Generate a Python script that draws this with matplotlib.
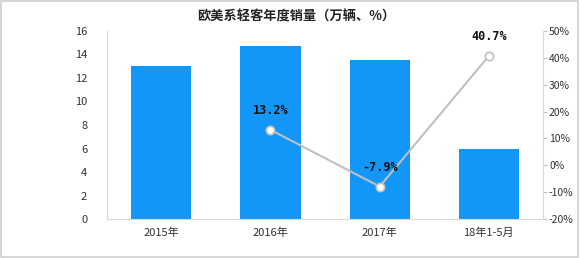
import numpy as np
import matplotlib.pyplot as plt
from matplotlib.patches import Rectangle

plt.rcParams['font.family'] = ['Noto Sans CJK SC', 'DejaVu Sans']

categories = ['2015年', '2016年', '2017年', '18年1-5月']
sales = [13.0, 14.7, 13.5, 6.0]
growth_x = [1, 2, 3]
growth = [13.2, -7.9, 40.7]
growth_labels = ['13.2%', '-7.9%', '40.7%']

fig = plt.figure(figsize=(5.8, 2.58), dpi=100)
fig.patches.append(Rectangle((0.002, 0.004), 0.995, 0.992, transform=fig.transFigure,
                             fill=False, edgecolor='#d0d0d0', linewidth=1.2))

ax = fig.add_axes([0.184, 0.151, 0.753, 0.729])
x = np.arange(len(categories))
ax.bar(x, sales, width=0.55, color='#1296F8', zorder=2)
ax.set_xlim(-0.5, 3.5)
ax.set_ylim(0, 16)
ax.set_yticks(range(0, 17, 2))
ax.set_xticks(x)
ax.set_xticklabels(categories)
ax.tick_params(axis='both', length=0, labelsize=8, colors='#333333', pad=6)
ax.tick_params(axis='y', pad=14)
for s in ['top', 'right']:
    ax.spines[s].set_visible(False)
for s in ['left', 'bottom']:
    ax.spines[s].set_color('#d9d9d9')

ax2 = ax.twinx()
ax2.plot(growth_x, growth, color='#c0c0c0', linewidth=1.5, marker='o', markersize=6,
         markerfacecolor='white', markeredgecolor='#c0c0c0', markeredgewidth=1.2, zorder=3)
ax2.set_ylim(-20, 50)
ax2.set_yticks(range(-20, 51, 10))
ax2.set_yticklabels([f'{v}%' for v in range(-20, 51, 10)])
ax2.tick_params(axis='y', length=3, direction='out', color='#c0c0c0', labelsize=7.5,
                colors='#333333', pad=1)
ax2.tick_params(axis='y', color='#c0c0c0')
for s in ['top', 'left', 'bottom']:
    ax2.spines[s].set_visible(False)
ax2.spines['right'].set_color('#d9d9d9')

for xi, yi, lab in zip(growth_x, growth, growth_labels):
    ax2.annotate(lab, (xi, yi), xytext=(0, 9), textcoords='offset points',
                 ha='center', va='bottom', fontsize=8.5, fontweight='bold',
                 family='DejaVu Sans Mono', color='#111111')

fig.text(0.51, 0.935, '欧美系轻客年度销量（万辆、%）', ha='center', va='center',
         fontsize=9.5, fontweight='bold', color='#222222')

fig.savefig('out.png', dpi=100)
